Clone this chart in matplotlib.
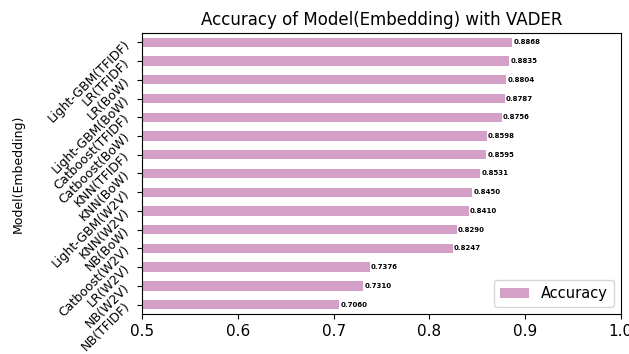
import numpy as np
import matplotlib.pyplot as plt

models = ["Light-GBM(TFIDF)", "LR(TFIDF)", "LR(BoW)", "Light-GBM(BoW)", "Catboost(TFIDF)",
          "Catboost(BoW)", "KNN(TFIDF)", "KNN(BoW)", "Light-GBM(W2V)", "KNN(W2V)",
          "NB(BoW)", "Catboost(W2V)", "LR(W2V)", "NB(W2V)", "NB(TFIDF)"]
accuracy = [0.8868, 0.8835, 0.8804, 0.8787, 0.8756, 0.8598, 0.8595, 0.8531,
            0.8450, 0.8410, 0.8290, 0.8247, 0.7376, 0.7310, 0.7060]

fig = plt.figure(figsize=(6.29, 3.54), dpi=100)
ax = fig.add_axes([0.226, 0.113, 0.761, 0.794])

y = np.arange(len(models))[::-1]
ax.barh(y, accuracy, height=0.5, color="#d4a0c8", label="Accuracy")
for yi, v in zip(y, accuracy):
    ax.text(v + 0.001, yi, f"{v:.4f}", va="center", ha="left", fontsize=5, fontweight="bold")

ax.set_yticks(y)
ax.set_yticklabels(models, rotation=45, fontsize=9)
ax.set_ylim(-0.5, len(models) - 0.5)
ax.set_xlim(0.5, 1.0)
ax.set_xticks([0.5, 0.6, 0.7, 0.8, 0.9, 1.0])
ax.set_xticklabels(["0.5", "0.6", "0.7", "0.8", "0.9", "1.0"], fontsize=11)
ax.set_ylabel("Model(Embedding)", fontsize=9)
ax.yaxis.set_label_coords(-0.245, 0.5)
ax.set_title("Accuracy of Model(Embedding) with VADER", fontsize=12)
ax.legend(loc="lower right", fontsize=10.5)

fig.savefig("out.png", dpi=100)
